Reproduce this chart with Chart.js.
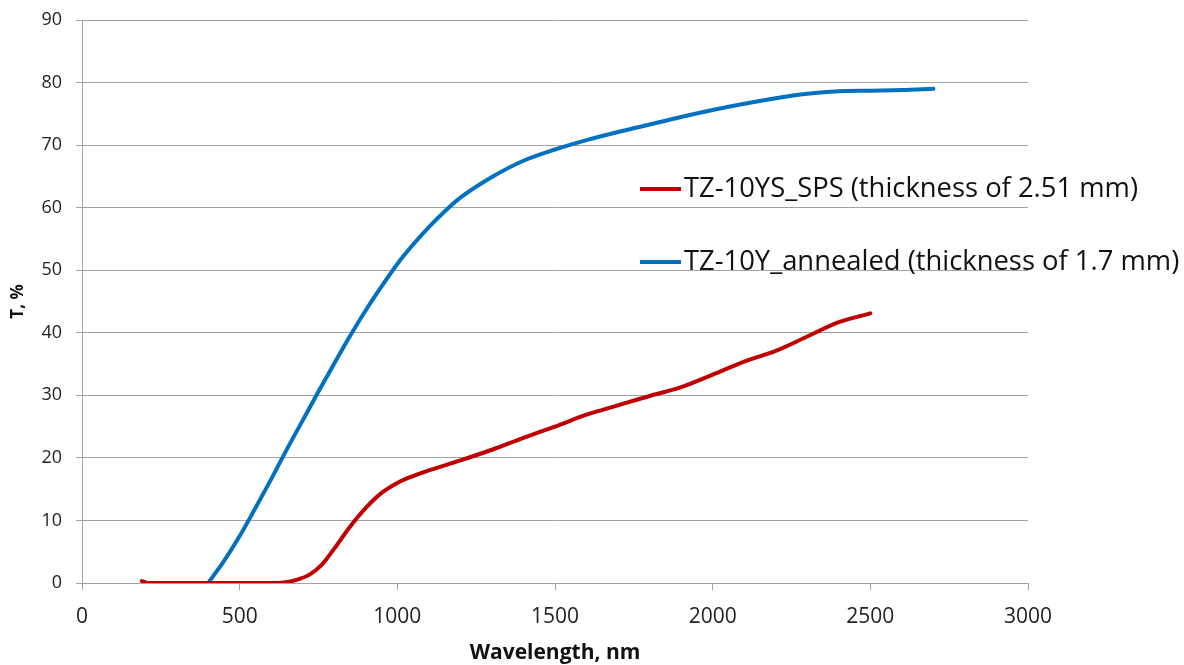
<!DOCTYPE html>
<html>
<head>
<meta charset="utf-8">
<script src="https://cdn.jsdelivr.net/npm/chart.js@4.4.1/dist/chart.umd.min.js"></script>
<style>
  html, body { margin: 0; padding: 0; background: #fff; }
</style>
</head>
<body>
<canvas id="grafico" width="1184" height="665"></canvas>
<script>
// Dados (comprimento de onda em nm, transmitância em %)
const nomeSPS = 'TZ-10YS_SPS (thickness of 2.51 mm)';
const ondaSPS = [190, 210, 300, 400, 500, 600, 640, 680, 720, 760, 800, 850, 900, 950, 1000, 1050, 1100, 1200, 1300, 1400, 1500, 1600, 1700, 1800, 1900, 2000, 2100, 2200, 2300, 2400, 2500];
const transSPS = [0.3, 0, 0, 0, 0, 0, 0.1, 0.5, 1.3, 2.9, 5.5, 9.0, 12.0, 14.4, 16.0, 17.1, 18.0, 19.6, 21.3, 23.2, 25.0, 26.9, 28.4, 29.9, 31.3, 33.3, 35.4, 37.1, 39.4, 41.7, 43.1];

const nomeRecozido = 'TZ-10Y_annealed (thickness of 1.7 mm)';
const ondaRecozido = [400, 450, 500, 550, 600, 650, 700, 750, 800, 850, 900, 950, 1000, 1050, 1100, 1150, 1200, 1300, 1400, 1500, 1600, 1700, 1800, 1900, 2000, 2100, 2200, 2300, 2400, 2500, 2600, 2700];
const transRecozido = [0, 3.5, 7.5, 12.0, 16.6, 21.4, 26.0, 30.6, 35.1, 39.5, 43.6, 47.4, 51.0, 54.1, 56.9, 59.4, 61.6, 64.9, 67.5, 69.3, 70.8, 72.1, 73.3, 74.5, 75.6, 76.6, 77.5, 78.2, 78.6, 78.7, 78.8, 79.0];

// Eixos
const xMin = 0, xMax = 3000, xPasso = 500;
const yMin = 0, yMax = 90, yPasso = 10;
const tituloX = 'Wavelength, nm';
const tituloY = 'T, %';

const corGrade = '#a3a3a3';
const fonte = '"Open Sans", "Noto Sans", sans-serif';

function pontos(xs, ys) {
  return xs.map((x, i) => ({ x: x, y: ys[i] }));
}

// Legenda desenhada dentro da área do gráfico, como no original
const legendaInterna = {
  id: 'legendaInterna',
  afterDatasetsDraw(chart) {
    const ctx = chart.ctx;
    const linhasY = [189, 262];
    ctx.save();
    ctx.font = '20px ' + fonte;
    const tamanho = 20 * 454 / ctx.measureText(chart.data.datasets[0].label).width;
    ctx.font = tamanho.toFixed(2) + 'px ' + fonte;
    ctx.textBaseline = 'middle';
    ctx.textAlign = 'left';
    chart.data.datasets.forEach((ds, i) => {
      const y = linhasY[i];
      ctx.strokeStyle = ds.borderColor;
      ctx.lineWidth = 4;
      ctx.lineCap = 'butt';
      ctx.beginPath();
      ctx.moveTo(640, y);
      ctx.lineTo(681, y);
      ctx.stroke();
      ctx.fillStyle = '#111';
      ctx.fillText(ds.label, 684, y);
    });
    ctx.restore();
  }
};

const ctx = document.getElementById('grafico').getContext('2d');
const grafico = new Chart(ctx, {
  type: 'line',
  data: {
    datasets: [
      {
        label: nomeSPS,
        data: pontos(ondaSPS, transSPS),
        borderColor: '#c00000',
        borderWidth: 4,
        borderCapStyle: 'round',
        pointRadius: 0,
        cubicInterpolationMode: 'monotone',
        fill: false
      },
      {
        label: nomeRecozido,
        data: pontos(ondaRecozido, transRecozido),
        borderColor: '#0070c0',
        borderWidth: 4,
        borderCapStyle: 'round',
        pointRadius: 0,
        cubicInterpolationMode: 'monotone',
        fill: false
      }
    ]
  },
  options: {
    responsive: false,
    animation: false,
    layout: { padding: { left: 0, top: 20, right: 156, bottom: 0 } },
    plugins: {
      legend: { display: false },
      tooltip: { enabled: false }
    },
    scales: {
      x: {
        type: 'linear',
        min: xMin,
        max: xMax,
        afterFit: (escala) => { escala.height = 82; },
        ticks: {
          stepSize: xPasso,
          color: '#222',
          padding: 14,
          font: { family: fonte, size: 21 },
          maxRotation: 0,
          callback: (v) => String(v)
        },
        grid: {
          drawOnChartArea: false,
          drawTicks: true,
          tickLength: 7,
          color: corGrade
        },
        border: { display: true, color: corGrade, width: 1 },
        title: {
          display: true,
          text: tituloX,
          color: '#111',
          font: { family: fonte, size: 21, weight: 'bold', lineHeight: 1 },
          padding: { top: 0, bottom: 1 }
        }
      },
      y: {
        min: yMin,
        max: yMax,
        afterFit: (escala) => {
          escala.width = 82;
          // o padding automático dos rótulos empurrava a área do gráfico para baixo
          escala.paddingTop = 0;
          escala.paddingBottom = 0;
        },
        ticks: {
          stepSize: yPasso,
          color: '#222',
          padding: 14,
          font: { family: fonte, size: 18 },
          callback: (v) => String(v)
        },
        grid: {
          drawTicks: true,
          tickLength: 6,
          color: corGrade
        },
        border: { display: true, color: corGrade, width: 1 },
        title: {
          display: true,
          text: tituloY,
          color: '#111',
          font: { family: fonte, size: 17, weight: 'bold', lineHeight: 1 },
          padding: { top: 10, bottom: 0 }
        }
      }
    }
  },
  plugins: [legendaInterna]
});
</script>
</body>
</html>
